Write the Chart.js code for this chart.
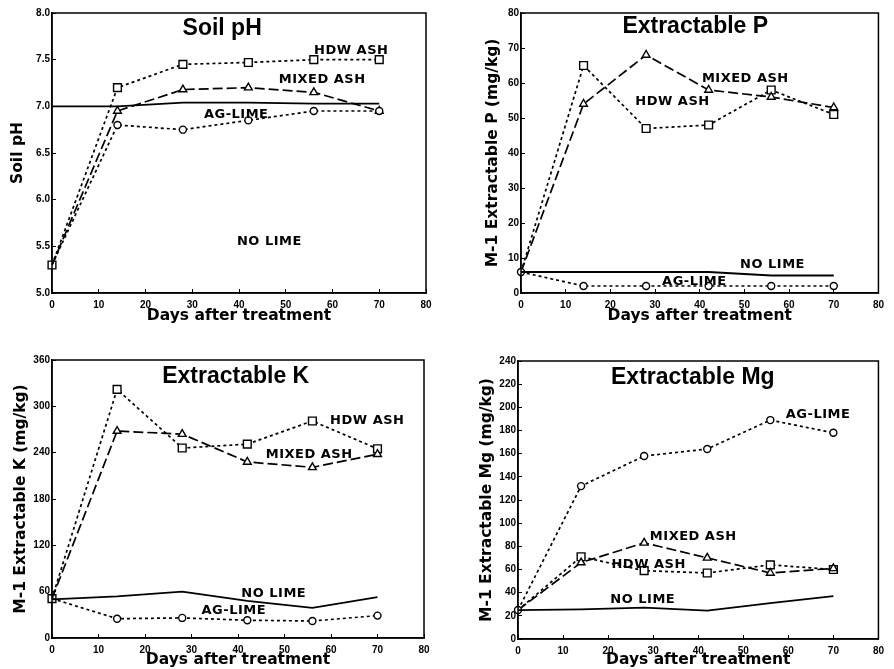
<!DOCTYPE html>
<html>
<head>
<meta charset="utf-8">
<script src="https://cdn.jsdelivr.net/npm/chart.js@4.4.1/dist/chart.umd.min.js"></script>
<style>
  html, body { margin: 0; padding: 0; background: #fff; }
  #wrap { position: relative; width: 894px; height: 669px; }
  canvas { position: absolute; }
</style>
</head>
<body>
<div id="wrap">
  <canvas id="ph" width="447" height="334" style="left:0;top:0"></canvas>
  <canvas id="p" width="447" height="334" style="left:447px;top:0"></canvas>
  <canvas id="k" width="447" height="335" style="left:0;top:334px"></canvas>
  <canvas id="mg" width="447" height="335" style="left:447px;top:334px"></canvas>
</div>
<script>
// sampling days, same for every panel
const days = [0, 14, 28, 42, 56, 70];
const xTicks = [0, 10, 20, 30, 40, 50, 60, 70, 80];

// Soil pH
const phTicks = [5.0, 5.5, 6.0, 6.5, 7.0, 7.5, 8.0];
const phHdw = [5.3, 7.2, 7.45, 7.47, 7.5, 7.5];
const phMixed = [5.3, 6.95, 7.18, 7.2, 7.15, 6.95];
const phAg = [5.3, 6.8, 6.75, 6.85, 6.95, 6.95];
const phNone = [7.0, 7.0, 7.04, 7.04, 7.03, 7.03];

// Extractable P (mg/kg)
const pTicks = [0, 10, 20, 30, 40, 50, 60, 70, 80];
const pHdw = [6, 65, 47, 48, 58, 51];
const pMixed = [6, 54, 68, 58, 56, 53];
const pAg = [6, 2, 2, 2, 2, 2];
const pNone = [6, 6, 6, 6, 5, 5];

// Extractable K (mg/kg)
const kTicks = [0, 60, 120, 180, 240, 300, 360];
const kHdw = [51, 322, 246, 251, 281, 245];
const kMixed = [51, 268, 264, 228, 221, 238];
const kAg = [51, 25, 26, 23, 22, 29];
const kNone = [50, 54, 60, 48, 39, 53];

// Extractable Mg (mg/kg)
const mgTicks = [0, 20, 40, 60, 80, 100, 120, 140, 160, 180, 200, 220, 240];
const mgHdw = [25, 71, 59, 57, 64, 60];
const mgMixed = [25, 66, 83, 70, 57, 61];
const mgAg = [25, 132, 158, 164, 189, 178];
const mgNone = [25, 25.5, 27, 24.5, 31, 37];

const names = { hdw: 'HDW ASH', mixed: 'MIXED ASH', ag: 'AG-LIME', none: 'NO LIME' };

// line look per treatment
const looks = {
    hdw:   { borderDash: [3, 3], pointStyle: 'rect', radius: 5.5 },
    mixed: { borderDash: [10, 4], pointStyle: 'triangle', radius: 4.5 },
    ag:    { borderDash: [3, 3], pointStyle: 'circle', radius: 3.5 },
    none:  { borderDash: [], pointStyle: 'circle', radius: 0 }
};

const tickFont = { family: '"Liberation Sans", Arial, sans-serif', size: 10, weight: 'bold' };
const titleFont = { family: '"DejaVu Sans", sans-serif', size: 15.5, weight: 'bold' };

// texts written inside the plot area (title + curve names)
const textPlugin = {
    id: 'panelText',
    afterDatasetsDraw(chart, args, opts) {
        const { ctx, scales: { x, y } } = chart;
        ctx.save();
        ctx.fillStyle = '#000';
        ctx.textAlign = 'center';
        ctx.textBaseline = 'middle';
        ctx.font = 'bold 23px "Liberation Sans", Arial, sans-serif';
        ctx.fillText(opts.title.text, x.getPixelForValue(opts.title.x), y.getPixelForValue(opts.title.y));
        ctx.font = 'bold 13px "DejaVu Sans", sans-serif';
        ctx.letterSpacing = '0.5px';
        opts.labels.forEach(l => {
            ctx.fillText(l.text, x.getPixelForValue(l.x), y.getPixelForValue(l.y));
        });
        ctx.restore();
    }
};

// full box round the plot
const framePlugin = {
    id: 'frame',
    afterDraw(chart) {
        const { ctx, chartArea: a } = chart;
        ctx.save();
        ctx.strokeStyle = '#000';
        ctx.lineWidth = 1.5;
        ctx.strokeRect(a.left, a.top, a.right - a.left, a.bottom - a.top);
        ctx.restore();
    }
};

function makeDataset(key, values, firstMarker) {
    const look = looks[key];
    return {
        label: names[key],
        data: days.map((d, i) => ({ x: d, y: values[i] })),
        borderColor: '#000',
        borderWidth: key === 'none' ? 1.8 : 1.7,
        borderDash: look.borderDash,
        pointStyle: look.pointStyle,
        pointRadius: ctx => (ctx.dataIndex === 0 && key !== firstMarker) ? 0 : look.radius,
        pointBackgroundColor: '#fff',
        pointBorderColor: '#000',
        pointBorderWidth: 1.4,
        tension: 0,
        fill: false,
        clip: false
    };
}

function makePanel(id, cfg) {
    const canvas = document.getElementById(id);
    const W = canvas.width, H = canvas.height;
    const a = cfg.area;
    new Chart(canvas, {
        type: 'line',
        data: {
            datasets: ['none', 'ag', 'mixed', 'hdw'].map(k => makeDataset(k, cfg.series[k], cfg.firstMarker))
        },
        options: {
            responsive: false,
            animation: false,
            layout: { padding: { left: 0, top: a.top, right: W - a.right, bottom: 0 } },
            plugins: {
                legend: { display: false },
                tooltip: { enabled: false },
                panelText: { title: cfg.title, labels: cfg.labels }
            },
            scales: {
                x: {
                    type: 'linear',
                    min: 0,
                    max: 80,
                    afterFit: s => { s.height = H - a.bottom; },
                    afterBuildTicks: s => { s.ticks = xTicks.map(v => ({ value: v })); },
                    grid: { drawOnChartArea: false, tickLength: -4, color: '#000', lineWidth: 1 },
                    border: { color: '#000', width: 1.5 },
                    ticks: { color: '#000', font: tickFont, padding: 10, maxRotation: 0 },
                    title: {
                        display: true,
                        text: 'Days after treatment',
                        color: '#000',
                        font: titleFont,
                        padding: { top: 0, bottom: cfg.xTitlePad }
                    }
                },
                y: {
                    type: 'linear',
                    min: cfg.yTicks[0],
                    max: cfg.yTicks[cfg.yTicks.length - 1],
                    afterFit: s => { s.width = a.left; },
                    afterBuildTicks: s => { s.ticks = cfg.yTicks.map(v => ({ value: v })); },
                    grid: { drawOnChartArea: false, tickLength: -4, color: '#000', lineWidth: 1 },
                    border: { color: '#000', width: 1.5 },
                    ticks: {
                        color: '#000',
                        font: tickFont,
                        padding: 6,
                        callback: v => cfg.decimals ? v.toFixed(cfg.decimals) : v
                    },
                    title: {
                        display: true,
                        text: cfg.yTitle,
                        color: '#000',
                        font: titleFont,
                        padding: { top: cfg.yTitlePad, bottom: 0 }
                    }
                }
            }
        },
        plugins: [textPlugin, framePlugin]
    });
}

makePanel('ph', {
    area: { left: 52, top: 13, right: 426, bottom: 293 },
    yTicks: phTicks,
    decimals: 1,
    yTitle: 'Soil pH',
    yTitlePad: 9,
    xTitlePad: 9,
    firstMarker: 'hdw',
    series: { hdw: phHdw, mixed: phMixed, ag: phAg, none: phNone },
    title: { text: 'Soil pH', x: 36.4, y: 7.83 },
    labels: [
        { text: names.hdw, x: 64, y: 7.6 },
        { text: names.mixed, x: 57.8, y: 7.29 },
        { text: names.ag, x: 39.4, y: 6.91 },
        { text: names.none, x: 46.5, y: 5.55 }
    ]
});

makePanel('p', {
    area: { left: 74, top: 13, right: 441, bottom: 293 },
    yTicks: pTicks,
    yTitle: 'M-1 Extractable P (mg/kg)',
    yTitlePad: 37,
    xTitlePad: 9,
    firstMarker: 'ag',
    series: { hdw: pHdw, mixed: pMixed, ag: pAg, none: pNone },
    title: { text: 'Extractable P', x: 39, y: 76 },
    labels: [
        { text: names.mixed, x: 50.2, y: 61.3 },
        { text: names.hdw, x: 33.9, y: 54.7 },
        { text: names.none, x: 56.3, y: 8.2 },
        { text: names.ag, x: 38.8, y: 3.2 }
    ]
});

makePanel('k', {
    area: { left: 52, top: 26, right: 424, bottom: 304 },
    yTicks: kTicks,
    yTitle: 'M-1 Extractable K (mg/kg)',
    yTitlePad: 12,
    xTitlePad: 0,
    firstMarker: 'hdw',
    series: { hdw: kHdw, mixed: kMixed, ag: kAg, none: kNone },
    title: { text: 'Extractable K', x: 39.5, y: 338 },
    labels: [
        { text: names.hdw, x: 67.8, y: 282 },
        { text: names.mixed, x: 55.3, y: 237 },
        { text: names.none, x: 47.7, y: 58 },
        { text: names.ag, x: 39.1, y: 36 }
    ]
});

makePanel('mg', {
    area: { left: 71, top: 27, right: 440, bottom: 305 },
    yTicks: mgTicks,
    yTitle: 'M-1 Extractable Mg (mg/kg)',
    yTitlePad: 31,
    xTitlePad: 0,
    firstMarker: 'ag',
    series: { hdw: mgHdw, mixed: mgMixed, ag: mgAg, none: mgNone },
    title: { text: 'Extractable Mg', x: 38.8, y: 226 },
    labels: [
        { text: names.ag, x: 66.6, y: 193.4 },
        { text: names.mixed, x: 38.9, y: 88.3 },
        { text: names.hdw, x: 29, y: 63.8 },
        { text: names.none, x: 27.7, y: 34.2 }
    ]
});
</script>
</body>
</html>
